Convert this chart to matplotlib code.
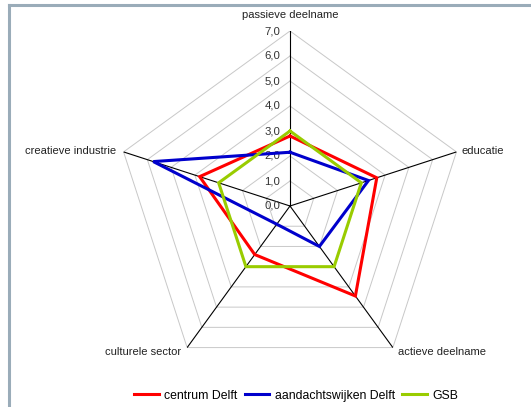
import numpy as np
import matplotlib
matplotlib.use('Agg')
import matplotlib.pyplot as plt
from matplotlib.lines import Line2D

plt.rcParams['font.family'] = ['Liberation Sans', 'DejaVu Sans']

categories = ['passieve deelname', 'educatie', 'actieve deelname',
              'culturele sector', 'creatieve industrie']
centrum = [2.8, 3.65, 4.45, 2.4, 3.8]
aandacht = [2.15, 3.3, 2.0, 0.9, 5.75]
gsb = [3.0, 3.0, 3.0, 3.0, 3.0]
series_names = ['centrum Delft', 'aandachtswijken Delft', 'GSB']
tick_values = [0, 1, 2, 3, 4, 5, 6, 7]
tick_labels = ['0,0', '1,0', '2,0', '3,0', '4,0', '5,0', '6,0', '7,0']

fig = plt.figure(figsize=(5.31, 4.07), dpi=100)
ax = fig.add_axes([115 / 531, 26 / 407, 350 / 531, 350 / 407], projection='polar')
ax.set_theta_zero_location('N')
ax.set_theta_direction(-1)
ax.set_ylim(0, 7)
ax.grid(False)
ax.spines['polar'].set_visible(False)
ax.set_xticks([])
ax.set_yticks([])
ax.patch.set_alpha(0)

n = len(categories)
angles = np.arange(n) * 2 * np.pi / n
closed = np.append(angles, angles[0])

# pentagon grid
for v in tick_values[1:]:
    ax.plot(closed, [v] * (n + 1), color='#c8c8c8', lw=0.7, zorder=1)
# spokes
for a in angles:
    ax.plot([a, a], [0, 7], color='black', lw=0.8, zorder=2)

# radial tick labels
for v, lab in zip(tick_values, tick_labels):
    ax.annotate(lab, xy=(0, v), xytext=(-7, 0), textcoords='offset points',
                ha='right', va='center', fontsize=8.2, color='#333333')

# category labels
label_pos = [
    dict(xytext=(0, 8), ha='center', va='bottom'),
    dict(xytext=(4, 1), ha='left', va='center'),
    dict(xytext=(4, -3), ha='left', va='center'),
    dict(xytext=(-4, -3), ha='right', va='center'),
    dict(xytext=(-5, 1), ha='right', va='center'),
]
for a, cat, p in zip(angles, categories, label_pos):
    ax.annotate(cat, xy=(a, 7), textcoords='offset points', fontsize=8,
                color='#222222', annotation_clip=False, **p)

colors = ['#ff0000', '#0000cc', '#99cc00']
handles = []
for vals, col, name in zip([centrum, aandacht, gsb], colors, series_names):
    h, = ax.plot(closed, vals + vals[:1], color=col, lw=2.2, zorder=3,
                 label=name, solid_joinstyle='miter')
    handles.append(h)

fig.legend(handles=handles, loc='lower center', bbox_to_anchor=(0.558, -0.014),
           ncol=3, frameon=False, fontsize=8.8, handlelength=2.0,
           handletextpad=0.45, columnspacing=0.6)

# outer frame (top and left edges)
frame_col = '#9aacb9'
fig.add_artist(Line2D([9 / 531, 1], [1 - 5 / 407, 1 - 5 / 407],
                      transform=fig.transFigure, color=frame_col, lw=2.2))
fig.add_artist(Line2D([9 / 531, 9 / 531], [0, 1 - 5 / 407],
                      transform=fig.transFigure, color=frame_col, lw=2.2))

fig.savefig('out.png', dpi=100)
